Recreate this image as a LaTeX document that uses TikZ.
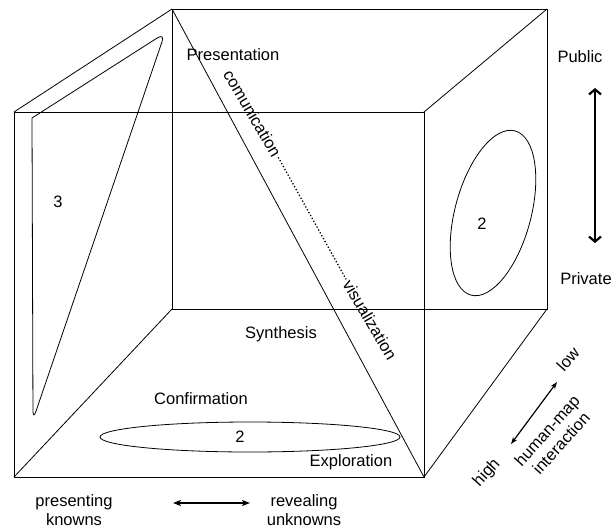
\documentclass[tikz,border=0pt]{standalone}
\usepackage{fontspec}
\setmainfont{Liberation Sans}
\usetikzlibrary{arrows.meta}
\begin{document}
\begin{tikzpicture}[x=1pt,y=-1pt,
  edge/.style={line width=0.8pt},
  lbl/.style={inner sep=0pt,font=\fontsize{16.5}{19}\selectfont},
  dirlbl/.style={lbl,rotate=48,align=center},
  diag/.style={lbl,rotate=-59.5}]
\useasboundingbox (0,0) rectangle (614,528);
% cube corners
\coordinate (fTL) at (14,112);
\coordinate (fTR) at (424,112);
\coordinate (fBR) at (424,477);
\coordinate (fBL) at (14,477);
\coordinate (bTL) at (172,9);
\coordinate (bTR) at (547,9);
\coordinate (bBR) at (547,309);
\coordinate (bBL) at (172,309);
\draw[edge] (fTL) -- (fTR) -- (fBR) -- (fBL) -- cycle;
\draw[edge] (bTL) -- (bTR) -- (bBR) -- (bBL) -- cycle;
\draw[edge] (fTL) -- (bTL);
\draw[edge] (fTR) -- (bTR);
\draw[edge] (fBR) -- (bBR);
\draw[edge] (fBL) -- (bBL);
\draw[edge] (bTL) -- (fBR);
% rounded triangle on left face
\coordinate (tA) at (32,118);
\coordinate (tB) at (165,33);
\coordinate (tC) at (33,420);
\draw[edge] (tA) [rounded corners=9pt] -- (tB) -- (tC) [sharp corners] -- cycle;
\node[lbl] (three) at (58,202) {3};
% ellipse on right face
\draw[edge,rotate around={75:(493,213)}] (493,213) ellipse [x radius=85, y radius=38];
\node[lbl] (twoR) at (482,224) {2};
% ellipse on bottom face
\draw[edge] (250,437) ellipse [x radius=150, y radius=15];
\node[lbl] (twoB) at (240,437) {2};
% labels
\node[lbl] (pres) at (233,55) {Presentation};
\node[lbl] (synth) at (281,334) {Synthesis};
\node[lbl] (conf) at (201,399) {Confirmation};
\node[lbl] (expl) at (351,462) {Exploration};
\node[diag] (comm) at (252.5,113.5) {comunication};
\node[diag] (vis) at (370,320) {visualization};
\draw[line width=1.3pt,dotted,shorten <=2pt,shorten >=2pt] (comm.east) -- (vis.west);
% public/private
\node[lbl] (pub) at (580,57) {Public};
\node[lbl] (priv) at (586,279) {Private};
\coordinate (ppT) at (595,88);
\coordinate (ppB) at (595,243);
\draw[line width=2.2pt,{Straight Barb[length=5pt,width=12pt]}-{Straight Barb[length=5pt,width=12pt]}] (ppT) -- (ppB);
% presenting / revealing
\node[lbl,align=center] (presk) at (74,510) {presenting\\knowns};
\node[lbl,align=center] (revu) at (304,510) {revealing\\unknowns};
\coordinate (hL) at (173,503);
\coordinate (hR) at (250,503);
\draw[line width=1.5pt,{Stealth[length=8pt,width=6pt,inset=2pt]}-{Stealth[length=8pt,width=6pt,inset=2pt]}] (hL) -- (hR);
% human-map interaction
\node[dirlbl] (low) at (568,359) {low};
\node[dirlbl] (high) at (487,473) {high};
\node[dirlbl] (hmi) at (554,437) {human-map\\interaction};
\coordinate (iH) at (511,444);
\coordinate (iL) at (557,382);
\draw[line width=1.2pt,{Stealth[length=7pt,width=5pt,inset=2pt]}-{Stealth[length=7pt,width=5pt,inset=2pt]}] (iH) -- (iL);
\end{tikzpicture}
\end{document}
